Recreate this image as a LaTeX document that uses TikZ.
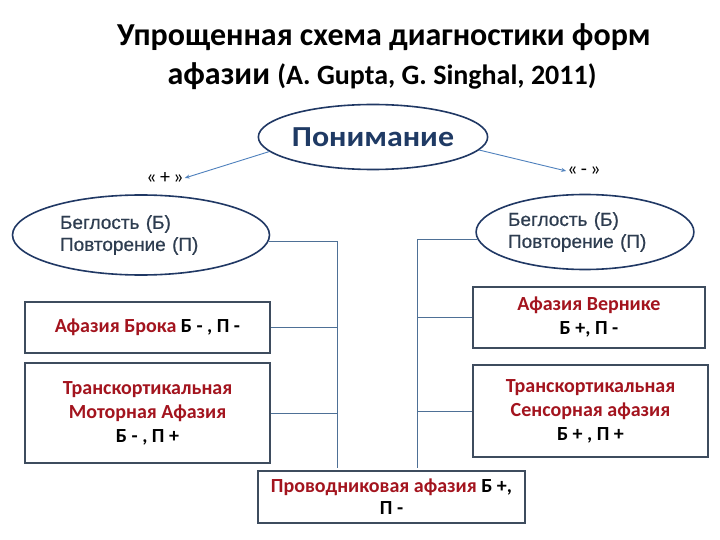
\documentclass[tikz,border=0pt]{standalone}
\usepackage{fontspec}
\setmainfont{Carlito}
\newfontfamily\arialf[FakeBold=0.6]{Liberation Sans}
\newfontfamily\widecarlito[FakeStretch=1.1]{Carlito}
\usetikzlibrary{shapes.geometric,arrows.meta}
\definecolor{navy}{HTML}{203864}
\definecolor{ponblue}{HTML}{1F3A64}
\definecolor{boxline}{HTML}{3E4C5E}
\definecolor{conn}{HTML}{4E7096}
\definecolor{arrblue}{HTML}{4F81BD}
\definecolor{darkred}{HTML}{A3141E}
\definecolor{elltext}{HTML}{2E3D50}
\tikzset{
  titlefont/.style={font=\fontsize{32}{36}\selectfont\bfseries},
  ovalbox/.style={ellipse,draw=navy,line width=1.6pt,inner sep=0pt},
  bluelabel/.style={ovalbox,text=elltext,align=left,font=\arialf\fontsize{19}{22}\selectfont},
  diagbox/.style={rectangle,draw=boxline,line width=1.6pt,fill=white,align=center,inner sep=2pt,font=\fontsize{20}{24}\selectfont\bfseries},
  connline/.style={draw=conn,line width=0.8pt},
  arr/.style={draw=arrblue,line width=0.9pt,-{Stealth[length=5pt,width=4pt]}},
  signlabel/.style={inner sep=1pt,font=\fontsize{20}{24}\selectfont}
}
\begin{document}
\begin{tikzpicture}[x=1pt,y=-1pt]
\useasboundingbox[fill=white] (0,0) rectangle (720,540);
\node[titlefont] (t1) at (384,37) {Упрощенная схема диагностики форм};
\node[titlefont] (t2) at (382,76) {афазии {\fontsize{28}{32}\selectfont (A. Gupta, G. Singhal, 2011)}};
\node[ovalbox,minimum width=223pt,minimum height=65pt,text=ponblue,font=\widecarlito\fontsize{29}{32}\selectfont\bfseries] (pon) at (373,137) {Понимание};
\node[signlabel] (plus) at (165,178) {«\,+\,»};
\node[signlabel] (minus) at (584,171) {«\,-\,»};
\draw[arr] (pon.188) -- (plus.east);
\draw[arr] (pon.353) -- (minus.west);
\node[bluelabel,text width=162pt,minimum width=257pt,minimum height=80pt] (lell) at (141,235) {Беглость (Б)\\Повторение (П)};
\node[bluelabel,text width=154pt,minimum width=214pt,minimum height=75pt] (rell) at (585,232) {Беглость (Б)\\Повторение (П)};
\node[diagbox,minimum width=245pt,minimum height=51pt] (broca) at (147.5,327.5) {\textcolor{darkred}{Афазия Брока} Б - , П -};
\node[diagbox,minimum width=245pt,minimum height=100pt] (tma) at (147.5,413) {\textcolor{darkred}{Транскортикальная}\\\textcolor{darkred}{Моторная Афазия}\\Б - , П +};
\node[diagbox,minimum width=232pt,minimum height=61pt] (wer) at (589,317.5) {\textcolor{darkred}{Афазия Вернике}\\Б +, П -};
\node[diagbox,minimum width=235pt,minimum height=92pt] (tsa) at (590.5,411) {\textcolor{darkred}{Транскортикальная}\\\textcolor{darkred}{Сенсорная афазия}\\Б + , П +};
\node[diagbox,minimum width=267pt,minimum height=52pt,font=\fontsize{20}{22}\selectfont\bfseries] (cond) at (391.5,497) {\textcolor{darkred}{Проводниковая афазия} Б +,\\П -};
\coordinate (lbot) at (337,468);
\coordinate (rbot) at (417,468);
\draw[connline] (lell.-3) -- (lell.-3 -| lbot) -- (lbot);
\draw[connline] (broca.east) -- (broca.east -| lbot);
\draw[connline] (tma.east) -- (tma.east -| lbot);
\draw[connline] (rell.184) -- (rell.184 -| rbot) -- (rbot);
\draw[connline] (wer.west) -- (wer.west -| rbot);
\draw[connline] (tsa.west) -- (tsa.west -| rbot);
\end{tikzpicture}
\end{document}
